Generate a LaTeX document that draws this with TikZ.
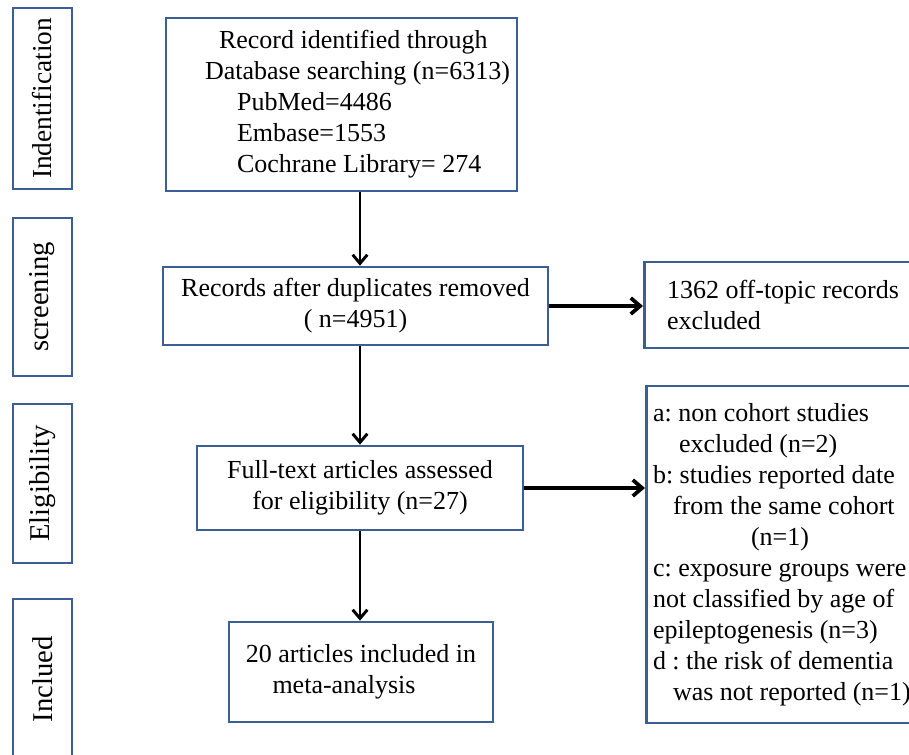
\documentclass[tikz,border=0pt]{standalone}
\usepackage{fontspec}
\setmainfont{Liberation Serif}
\usepackage{tikz}
\usetikzlibrary{arrows.meta}

\definecolor{boxblue}{HTML}{3B5F94}

\begin{document}
\frenchspacing
\begin{tikzpicture}[
		x=0.75pt, y=-0.75pt,
		every node/.style={font=\fontsize{19.5}{23.25}\selectfont},
		stagenode/.style={rectangle, draw=boxblue, line width=2pt, rotate=90, minimum height=44.25pt, inner sep=0pt, font=\fontsize{21.5}{25}\selectfont},
		flownode/.style={rectangle, draw=boxblue, line width=2pt, align=center},
		sidenode/.style={rectangle, draw=boxblue, line width=2pt, align=flush left, anchor=west},
		downarrow/.style={-{Straight Barb[length=6.5pt, width=11pt]}, line width=2.2pt},
		sidearrow/.style={-{Straight Barb[length=7pt, width=12pt]}, line width=2.8pt}
	]
	\useasboundingbox (0,0) rectangle (909,755);

	% stages on the left
	\node[stagenode, minimum width=135.75pt, font=\fontsize{20.5}{24}\selectfont] (ident) at (42.5,98.5) {Indentification};
	\node[stagenode, minimum width=118.5pt] (screen) at (42.5,297) {screening};
	\node[stagenode, minimum width=119.25pt] (elig) at (42.5,483.5) {Eligibility};
	\node[stagenode, minimum width=120.75pt] (incl) at (42.5,679.5) {Inclued};

	% main flow
	\node[flownode, align=left, minimum width=263.25pt, minimum height=129.75pt] (records) at (341.5,104.5)
		{\hspace*{34.5pt}Record identified through\\
		\hspace*{24pt}Database searching (n=6313)\\
		\hspace*{48pt}PubMed=4486\\
		\hspace*{48pt}Embase=1553\\
		\hspace*{48pt}Cochrane Library= 274};
	\node[flownode, minimum width=288.75pt, minimum height=58.5pt] (dedup) at (355.5,306)
		{Records after duplicates removed\\( n=4951)};
	\node[flownode, minimum width=244.5pt, minimum height=63pt] (fulltext) at (360,488)
		{Full-text articles assessed\\for eligibility (n=27)};
	\node[flownode, align=left, minimum width=198pt, minimum height=75pt] (included) at (361,672)
		{20 articles included in\\\hspace*{20pt}meta-analysis};

	% exclusions
	\node[sidenode, inner xsep=17pt, text width=195pt, minimum height=64.5pt] (offtopic) at (643,305)
		{1362 off-topic records\\excluded};
	\node[sidenode, inner xsep=5pt, text width=225pt, minimum height=252.75pt] (reasons) at (645,554.5)
		{a: non cohort studies\\
		\hspace*{19.5pt}excluded (n=2)\\
		b: studies reported date\\
		\hspace*{15pt}from the same cohort\\
		\hspace*{73.5pt}(n=1)\\
		c: exposure groups were\\
		not classified by age of\\
		epileptogenesis (n=3)\\
		d : the risk of dementia\\
		\hspace*{15pt}was not reported (n=1)};

	\draw[downarrow] (records.south -| fulltext) -- (dedup.north -| fulltext);
	\draw[downarrow] (dedup.south -| fulltext) -- (fulltext.north);
	\draw[downarrow] (fulltext.south) -- (included.north -| fulltext);
	\draw[sidearrow] (dedup.east) -- (dedup.east -| offtopic.west);
	\draw[sidearrow] (fulltext.east) -- (fulltext.east -| reasons.west);

\end{tikzpicture}
\end{document}
